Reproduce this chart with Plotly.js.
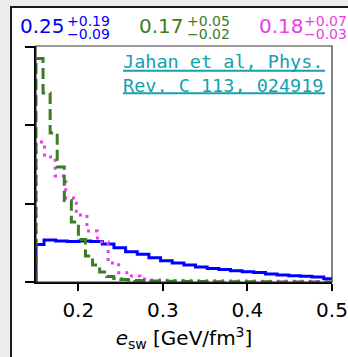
<!DOCTYPE html>
<html>
<head>
<meta charset="utf-8">
<script src="https://cdn.plot.ly/plotly-3.0.1.min.js"></script>
<style>
  html, body { margin:0; padding:0; width:348px; height:357px; overflow:hidden; background:#ededed; }
  #frame { position:absolute; left:10px; top:6px; width:400px; height:400px; background:#ffffff;
           border-left:2px solid #1a1a1a; border-top:2px solid #1a1a1a; }
  #plot { position:absolute; left:0; top:0; width:348px; height:357px; }
</style>
</head>
<body>
<div id="frame"></div>
<div id="plot"></div>
<script>
// ---- data ----
const xTickVals = [0.2, 0.3, 0.4, 0.5];
const xTickText = ['0.2', '0.3', '0.4', '0.5'];
const yTickVals = [0, 10, 20, 30];

// blue (solid) histogram
const blueStart = 0.15, blueFirstEdge = 0.1595, blueWidth = 0.01378;
const blueVals = [4.79, 5.36, 5.24, 5.17, 5.24, 5.17, 4.85, 4.38, 3.87, 3.54, 3.10, 2.72, 2.42, 2.17,
                  1.92, 1.72, 1.60, 1.44, 1.32, 1.21, 1.02, 0.89, 0.80, 0.73, 0.64, 0.42];

// green (dashed) histogram
const greenStart = 0.15, greenFirstEdge = 0.15836, greenWidth = 0.00836;
const greenVals = [28.54, 24.14, 19.03, 14.69, 10.41, 7.66, 5.43, 3.32, 2.17, 1.28, 0.70, 0.45, 0.32, 0.26,
                   0.19, 0.16, 0.14, 0.12, 0.10, 0.09, 0.08, 0.07, 0.06, 0.05, 0.05, 0.04, 0.04, 0.03,
                   0.03, 0.03, 0.02, 0.02, 0.02, 0.02, 0.01, 0.01, 0.01, 0.01, 0.01, 0.01, 0.01, 0.01];

// magenta (dotted) histogram
const magStart = 0.15, magFirstEdge = 0.1601, magWidth = 0.01253;
const magVals = [17.88, 15.96, 13.54, 10.73, 8.56, 6.51, 5.11, 2.43, 1.19, 0.77, 0.38, 0.26, 0.22,
                 0.20, 0.19, 0.17, 0.16, 0.15, 0.14, 0.13, 0.12, 0.11, 0.10, 0.09, 0.09, 0.08, 0.07, 0.07, 0.06];

const medians = ['0.25', '0.17', '0.18'];
const upErr = ['+0.19', '+0.05', '+0.07'];
const loErr = ['\u22120.09', '\u22120.02', '\u22120.03'];
const refLines = ['Jahan et al, Phys.', 'Rev. C 113, 024919'];

// ---- helpers ----
function edgesFrom(start, first, width, n) {
  const e = [start];
  for (let i = 0; i < n; i++) e.push(first + i * width);
  return e;
}
function stepTrace(edges, vals, color, dash) {
  const x = [edges[0]], y = [0];
  for (let i = 0; i < vals.length; i++) { x.push(edges[i]); y.push(vals[i]); }
  x.push(edges[vals.length]); y.push(vals[vals.length - 1]);
  x.push(edges[vals.length]); y.push(0);
  return { type: 'scatter', mode: 'lines', x: x, y: y, hoverinfo: 'skip',
           line: { shape: 'hv', color: color, width: 3, dash: dash } };
}

const BLUE = '#0000ff', GREEN = '#3a7d22', MAG = '#e640e6', TEAL = '#15a0ae';

const traces = [
  stepTrace(edgesFrom(blueStart, blueFirstEdge, blueWidth, blueVals.length), blueVals, BLUE, 'solid'),
  stepTrace(edgesFrom(magStart, magFirstEdge, magWidth, magVals.length), magVals, MAG, '3px,5px'),
  stepTrace(edgesFrom(greenStart, greenFirstEdge, greenWidth, greenVals.length), greenVals, GREEN, '11px,5px')
];

// pixel -> paper helpers for text placement (plot area: x 36..332, y 46..282)
const px = v => (v - 36) / 296;
const py = v => (282 - v) / 236;

const colors = [BLUE, GREEN, MAG];
const medX = [18, 137, 257];
const errX = [65, 185, 302];
const annotations = [];
for (let i = 0; i < 3; i++) {
  annotations.push({ xref: 'paper', yref: 'paper', x: px(medX[i]), y: py(26), xanchor: 'left', yanchor: 'middle',
    text: medians[i], showarrow: false, font: { family: 'DejaVu Sans', size: 20, color: colors[i] } });
  annotations.push({ xref: 'paper', yref: 'paper', x: px(errX[i]), y: py(21), xanchor: 'left', yanchor: 'middle',
    text: upErr[i], showarrow: false, font: { family: 'DejaVu Sans', size: 14, color: colors[i] } });
  annotations.push({ xref: 'paper', yref: 'paper', x: px(errX[i]), y: py(33.5), xanchor: 'left', yanchor: 'middle',
    text: loErr[i], showarrow: false, font: { family: 'DejaVu Sans', size: 14, color: colors[i] } });
}
const refY = [61.5, 85];
for (let i = 0; i < 2; i++) {
  annotations.push({ xref: 'paper', yref: 'paper', x: px(325), y: py(refY[i]), xanchor: 'right', yanchor: 'middle',
    text: refLines[i], showarrow: false, font: { family: 'DejaVu Sans Mono', size: 18.5, color: TEAL } });
}

const shapes = [
  { type: 'rect', xref: 'paper', yref: 'paper', x0: 0, x1: 1, y0: 0, y1: 1, layer: 'above',
    line: { color: '#333333', width: 1.2 } },
  { type: 'line', xref: 'paper', yref: 'paper', x0: px(123), x1: px(325), y0: py(70.7), y1: py(70.7),
    line: { color: TEAL, width: 2 } },
  { type: 'line', xref: 'paper', yref: 'paper', x0: px(123), x1: px(325), y0: py(93.3), y1: py(93.3),
    line: { color: TEAL, width: 2 } }
];

const layout = {
  width: 348, height: 357,
  margin: { l: 36, r: 16, t: 46, b: 75, pad: 0 },
  paper_bgcolor: 'rgba(0,0,0,0)', plot_bgcolor: '#ffffff',
  showlegend: false,
  font: { family: 'DejaVu Sans', color: '#000' },
  xaxis: {
    range: [0.15, 0.5], tickvals: xTickVals, ticktext: xTickText,
    ticks: 'outside', ticklen: 7, tickwidth: 2, tickcolor: '#000',
    showline: true, linecolor: '#000', linewidth: 2, mirror: false,
    showgrid: false, zeroline: false, ticklabelstandoff: 2,
    tickfont: { family: 'DejaVu Sans', size: 20, color: '#000' },
    title: { text: '<i>e</i><sub>sw</sub> [GeV/fm<sup>3</sup>]', font: { family: 'DejaVu Sans', size: 20, color: '#000' }, standoff: 10 }
  },
  yaxis: {
    range: [0, 30.14], tickvals: yTickVals, showticklabels: false,
    ticks: 'outside', ticklen: 9, tickwidth: 2, tickcolor: '#000',
    showline: true, linecolor: '#000', linewidth: 2, mirror: false,
    showgrid: false, zeroline: false
  },
  annotations: annotations,
  shapes: shapes
};

Plotly.newPlot('plot', traces, layout, { staticPlot: true, displayModeBar: false });
</script>
</body>
</html>
